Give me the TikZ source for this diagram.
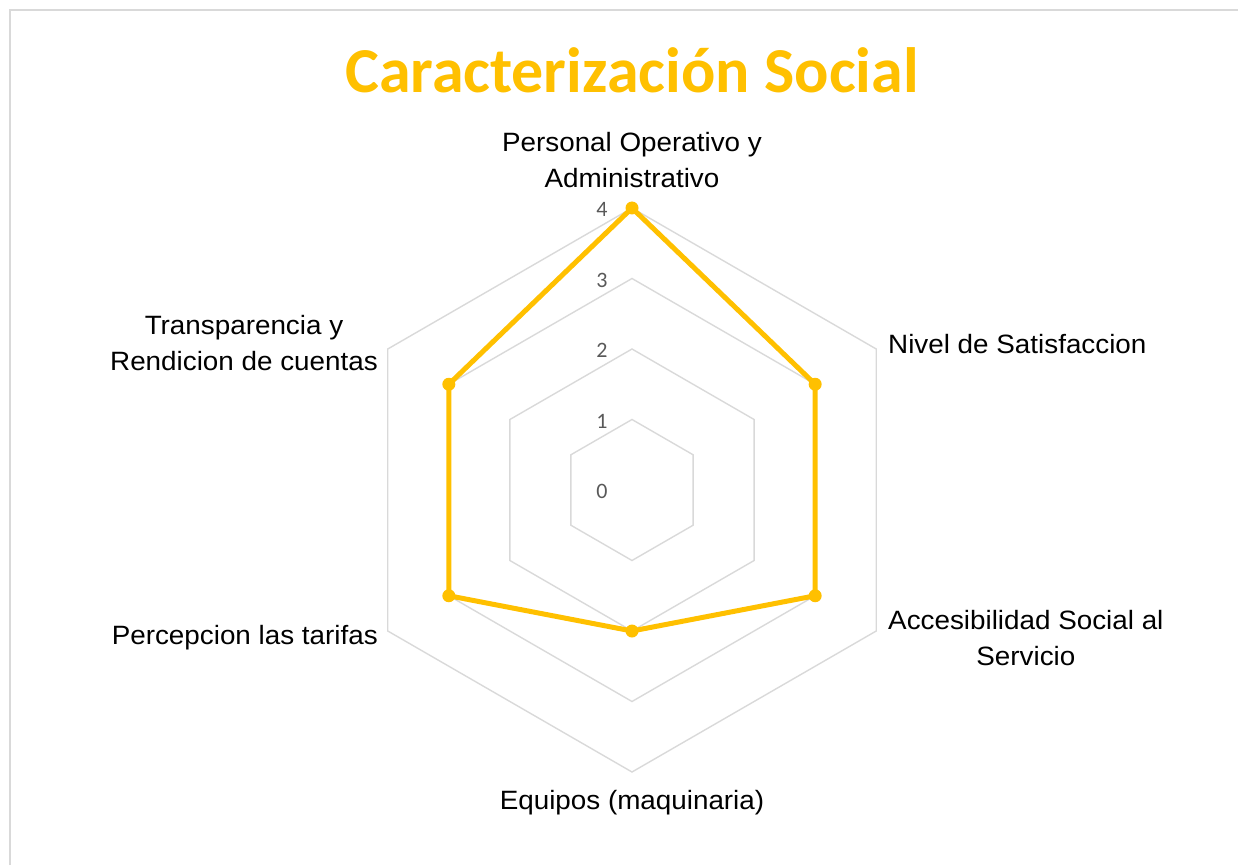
\documentclass[tikz,border=0pt]{standalone}
\usepackage{fontspec}
\setmainfont{Liberation Sans}[FakeStretch=1.05]
\newfontfamily\calibri{Carlito}
\usetikzlibrary{positioning}
\definecolor{gold}{HTML}{FFC000}
\definecolor{gridgray}{HTML}{D9D9D9}
\definecolor{tickgray}{HTML}{595959}

\begin{document}
\begin{tikzpicture}[x=1pt,y=1pt]
\tikzstyle{ring}=[draw=gridgray,line width=1.4pt]
\tikzstyle{dot}=[circle,fill=gold,inner sep=0pt,minimum size=13pt]
\tikzstyle{axislabel}=[font=\fontsize{26.5}{36}\selectfont,align=center,inner sep=0pt]
\tikzstyle{ticklabel}=[font=\calibri\fontsize{22}{22}\selectfont,text=tickgray,inner sep=0pt]
\useasboundingbox (-632,-375) rectangle (606,490);
% frame
\draw[gridgray,line width=1.5pt] (-622,-375) -- (-622,480) -- (606,480);
% grid rings
\foreach \r in {1,2,3,4}
  \draw[ring] (90:{\r*70.5}) -- (30:{\r*70.5}) -- (-30:{\r*70.5})
    -- (-90:{\r*70.5}) -- (210:{\r*70.5}) -- (150:{\r*70.5}) -- cycle;
% scale
\node[ticklabel] (t0) at (-30,-1) {0};
\node[ticklabel] (t1) at (-30,69) {1};
\node[ticklabel] (t2) at (-30,140) {2};
\node[ticklabel] (t3) at (-30,210) {3};
\node[ticklabel] (t4) at (-30,281) {4};
% values
\coordinate (per) at (90:282);
\coordinate (niv) at (30:211.5);
\coordinate (acc) at (-30:211.5);
\coordinate (equ) at (-90:141);
\coordinate (tar) at (210:211.5);
\coordinate (tra) at (150:211.5);
\draw[gold,line width=5pt,line join=round]
    (per) -- (niv) -- (acc) -- (equ) -- (tar) -- (tra) -- cycle;
\node[dot] at (per) {};
\node[dot] at (niv) {};
\node[dot] at (acc) {};
\node[dot] at (equ) {};
\node[dot] at (tar) {};
\node[dot] at (tra) {};
% axis names
\node[axislabel] (lper) at (0,330) {Personal Operativo y\\Administrativo};
\node[axislabel,anchor=west] (lniv) at (256,146) {Nivel de Satisfaccion};
\node[axislabel,anchor=west] (lacc) at (256,-148) {Accesibilidad Social al\\Servicio};
\node[axislabel] (lequ) at (0,-313) {Equipos (maquinaria)};
\node[axislabel,anchor=east] (ltar) at (-254,-148) {Percepcion las tarifas};
\node[axislabel,anchor=east] (ltra) at (-254,146.5) {Transparencia y\\Rendicion de cuentas};
% title
\node[font=\calibri\bfseries\fontsize{64}{64}\selectfont,text=gold] (title) at (0,420) {Caracterización Social};
\end{tikzpicture}
\end{document}
